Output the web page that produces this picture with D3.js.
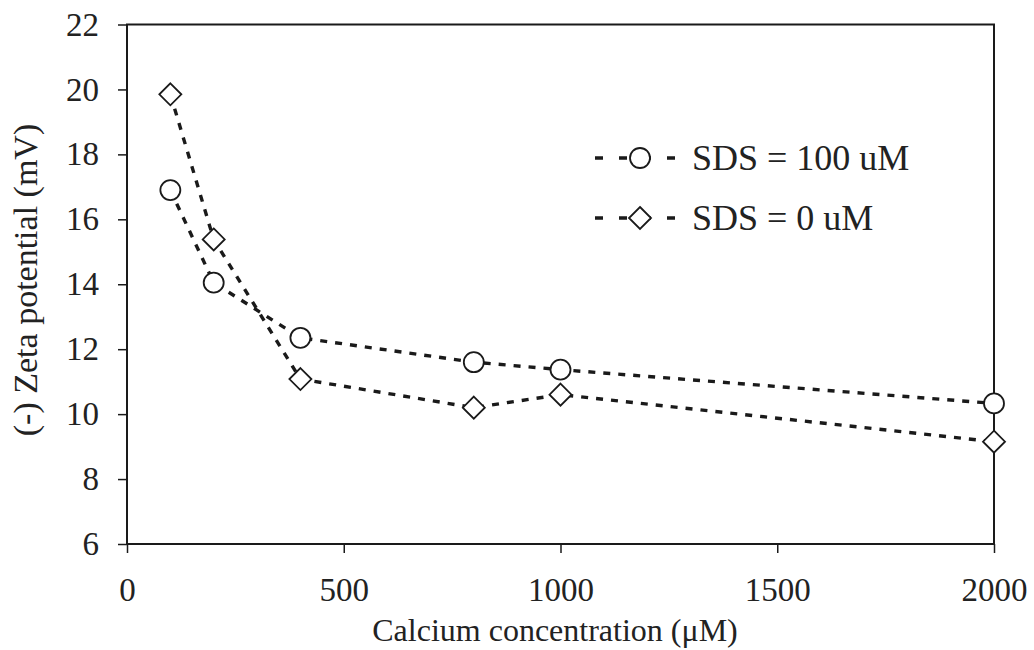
<!DOCTYPE html>
<html><head><meta charset="utf-8">
<script src="https://cdn.jsdelivr.net/npm/d3@7"></script>
<style>body{margin:0;background:#fff}svg{display:block}text{font-family:"Liberation Serif","Times New Roman",serif;fill:#222}</style>
</head><body>
<svg id="c" width="1034" height="650"></svg>
<script>
const calcium = [100, 200, 400, 800, 1000, 2000];
const sds100 = [16.9, 14.05, 12.35, 11.6, 11.37, 10.33];
const sds0 = [19.85, 15.38, 11.08, 10.2, 10.6, 9.15];
const xTicks = [0, 500, 1000, 1500, 2000];
const yTicks = [6, 8, 10, 12, 14, 16, 18, 20, 22];
const seriesNames = ["SDS = 100 uM", "SDS = 0 uM"];

const svg = d3.select("#c");
const L = 127, R = 994, T = 24.5, B = 544;
const x = d3.scaleLinear().domain([0, 2000]).range([L, R]);
const y = d3.scaleLinear().domain([6, 22]).range([B, T]);
const col = "#1a1a1a";

// frame
svg.append("rect").attr("x", L).attr("y", T).attr("width", R - L).attr("height", B - T)
  .attr("fill", "none").attr("stroke", col).attr("stroke-width", 2);

const xAxis = svg.append("g").attr("transform", `translate(0,${B})`)
  .call(d3.axisBottom(x).tickValues(xTicks).tickSize(9).tickPadding(25).tickFormat(d3.format("d")));
const yAxis = svg.append("g").attr("transform", `translate(${L},0)`)
  .call(d3.axisLeft(y).tickValues(yTicks).tickSize(9).tickPadding(19));
[xAxis, yAxis].forEach(g => {
  g.select(".domain").remove();
  g.selectAll("line").attr("stroke", col).attr("stroke-width", 1.5);
  g.selectAll("text").attr("font-size", 33).attr("fill", "#222")
   .style("font-family", '"Liberation Serif",serif');
});

svg.append("text").attr("x", 555).attr("y", 641).attr("text-anchor", "middle").attr("font-size", 32)
  .text("Calcium concentration (μM)");
svg.append("text").attr("transform", "translate(37,280) rotate(-90)").attr("text-anchor", "middle")
  .attr("font-size", 34).text("(-) Zeta potential (mV)");

const line = d3.line().x(d => x(d[0])).y(d => y(d[1]));
const data = [calcium.map((c, i) => [c, sds100[i]]), calcium.map((c, i) => [c, sds0[i]])];
const diamond = s => `M0,${-s}L${s},0L0,${s}L${-s},0Z`;

data.forEach((d, k) => {
  svg.append("path").datum(d).attr("d", line).attr("fill", "none").attr("stroke", col)
    .attr("stroke-width", 3.4).attr("stroke-dasharray", "7,8");
});
data.forEach((d, k) => {
  const g = svg.append("g");
  if (k === 0) {
    g.selectAll("circle").data(d).join("circle").attr("cx", p => x(p[0])).attr("cy", p => y(p[1]))
      .attr("r", 10).attr("fill", "#fff").attr("stroke", col).attr("stroke-width", 1.8);
  } else {
    g.selectAll("path").data(d).join("path").attr("transform", p => `translate(${x(p[0])},${y(p[1])})`)
      .attr("d", diamond(11)).attr("fill", "#fff").attr("stroke", col).attr("stroke-width", 1.8);
  }
});

// legend
const leg = [[158, 0], [218, 1]];
leg.forEach(([ly, k]) => {
  svg.append("line").attr("x1", 595).attr("x2", 675).attr("y1", ly).attr("y2", ly)
    .attr("stroke", col).attr("stroke-width", 3.4).attr("stroke-dasharray", "8,16");
  if (k === 0) svg.append("circle").attr("cx", 640).attr("cy", ly).attr("r", 10)
    .attr("fill", "#fff").attr("stroke", col).attr("stroke-width", 1.8);
  else svg.append("path").attr("transform", `translate(640,${ly})`).attr("d", diamond(11))
    .attr("fill", "#fff").attr("stroke", col).attr("stroke-width", 1.8);
  svg.append("text").attr("x", 692).attr("y", ly + 12).attr("font-size", 36).text(seriesNames[k]);
});
</script>
</body></html>
